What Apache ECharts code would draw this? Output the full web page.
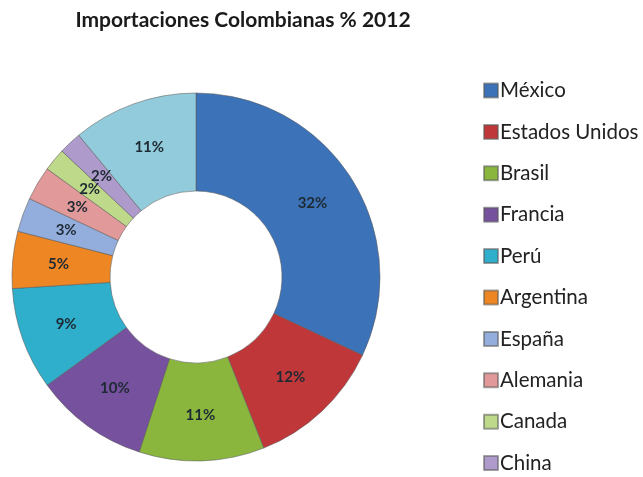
<!DOCTYPE html>
<html><head><meta charset="utf-8">
<script src="https://cdn.jsdelivr.net/npm/echarts@6/dist/echarts.min.js"></script>
<style>html,body{margin:0;padding:0;background:#fff}#c{width:643px;height:477px}</style>
</head><body><div id="c"></div>
<script>
const categories = ['México','Estados Unidos','Brasil','Francia','Perú','Argentina','España','Alemania','Canada','China','Otros'];
const values = [32,12,11,10,9,5,3,3,2,2,11];
const legendNames = ['México','Estados Unidos','Brasil','Francia','Perú','Argentina','España','Alemania','Canada','China'];
const colors = ['#3C72B8','#C0373A','#8AB63E','#75519E','#2FAFCB','#EE8624','#93AEDC','#E2999A','#BFD98A','#AE9BCB','#92CCDC'];

const chart = echarts.init(document.getElementById('c'), null, {renderer:'canvas'});
chart.setOption({
  animation:false,
  color: colors,
  title:{
    text:'Importaciones Colombianas % 2012',
    left:238, top:5, textAlign:'center',
    textStyle:{fontFamily:'Lato', fontWeight:'bold', fontSize:21, color:'#1a1a1a'}
  },
  legend:{
    orient:'vertical', left:478, top:75, height:420,
    data: legendNames,
    icon:'rect', itemWidth:14, itemHeight:14, itemGap:20.4,
    textStyle:{fontFamily:'Lato', fontSize:20.5, lineHeight:21, color:'#222', padding:[0,0,0,-3]}
  },
  series:[{
    type:'pie',
    center:[196,277],
    radius:[86,184],
    startAngle:90,
    clockwise:true,
    avoidLabelOverlap:false,
    data: categories.map((n,i)=>({name:n, value:values[i]})),
    itemStyle:{borderColor:'rgba(90,90,90,0.55)', borderWidth:1},
    label:{
      show:true, position:'inside',
      formatter: p => p.value + '%',
      fontFamily:'Lato', fontWeight:'bold', fontSize:15, color:'#1e2a33'
    },
    labelLayout:{hideOverlap:false},
    labelLine:{show:false},
    emphasis:{disabled:true}
  }]
});
</script></body></html>
